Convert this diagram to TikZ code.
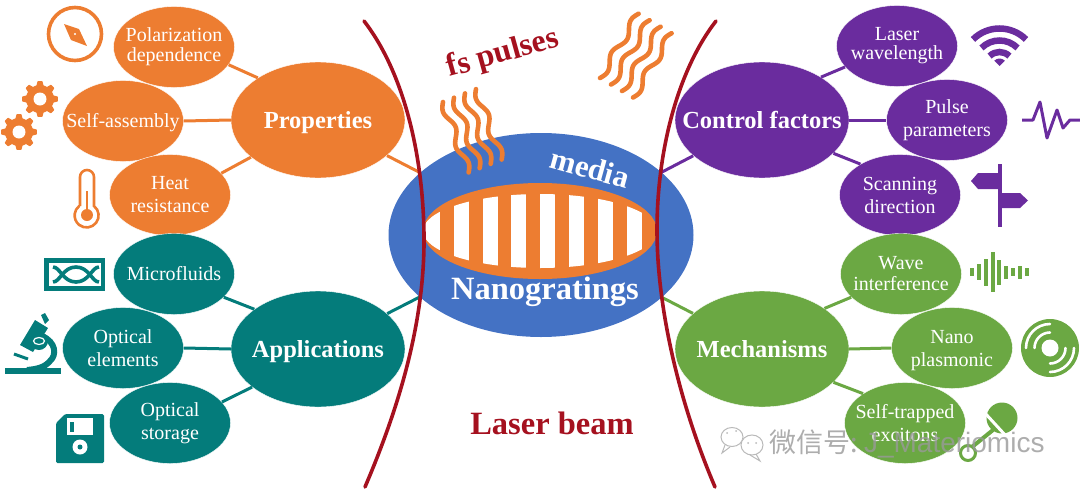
\documentclass[tikz,border=0pt]{standalone}
\usepackage{fontspec}
\setmainfont{Liberation Serif}
\setsansfont{Liberation Sans}
\newfontfamily\cjkfont{Noto Sans CJK SC}
\usetikzlibrary{shapes.geometric}

\definecolor{orangeFill}{HTML}{ED7D31}
\definecolor{tealFill}{HTML}{047C7B}
\definecolor{purpleFill}{HTML}{6A2C9E}
\definecolor{greenFill}{HTML}{6BA843}
\definecolor{blueFill}{HTML}{4472C4}
\definecolor{beamRed}{HTML}{A5111F}

\tikzstyle{subState}=[shape=ellipse,draw=white,text=white,inner sep=-30pt,align=center,minimum width=121pt,minimum height=81pt,font=\fontsize{20}{23}\selectfont]
\tikzstyle{mainState}=[shape=ellipse,draw=white,text=white,inner sep=-30pt,align=center,minimum width=174pt,minimum height=116pt,text height=16pt,text depth=0pt,font=\fontsize{24.5}{28}\selectfont\bfseries]
\tikzstyle{bigLabel}=[font=\fontsize{32.5}{36}\selectfont\bfseries]
\tikzstyle{link}=[line width=3pt]
\tikzstyle{pulseWave}=[draw=orangeFill,line width=4.6pt,line cap=round]

\tikzset{
    gearIcon/.pic={
        \fill[orangeFill] (0,0) circle (14pt);
        \foreach \a in {0,45,...,315}
            \filldraw[orangeFill,line width=1.5pt,line join=round,rotate=\a] (-3.2,-12) -- (-1.8,-17.2) -- (1.8,-17.2) -- (3.2,-12) -- cycle;
        \fill[white] (0,0) circle (6.5pt);
    },
    waveIcon/.pic={
        \draw[pulseWave] plot[domain=0:1,samples=40,smooth] ({\x*75},{3.4*sin(\x*720)});
    }
}

\begin{document}
\begin{tikzpicture}[x=1pt,y=-1pt]
        \useasboundingbox (0,0) rectangle (1080,493);

        % middle
        \node[shape=ellipse,fill=blueFill,minimum width=305pt,minimum height=204pt] (medium) at (541,235) {};
        \node[shape=ellipse,fill=orangeFill,minimum width=234pt,minimum height=96pt] (grating) at (540,231) {};
        \begin{scope}
            \clip (540,231) ellipse [x radius=117pt,y radius=37pt];
            \foreach \n in {0,...,7}
                \fill[white] (425+28.8*\n,190) rectangle ++(15,85);
        \end{scope}
        \node[rotate=-15.5,text=white,font=\fontsize{31}{36}\selectfont\bfseries] (media) at (590,168) {media};
        \node[bigLabel,text=white] (nanogratings) at (545,292) {Nanogratings};
        \node[rotate=15.5,text=beamRed,font=\fontsize{32}{36}\selectfont\bfseries] (fs) at (503,54) {fs pulses};
        \node[bigLabel,text=beamRed] (beam) at (552,423) {Laser beam};

        % orange, top left
        \node[mainState,fill=orangeFill] (prop) at (318,120) {Properties};
        \node[subState,fill=orangeFill] (polar) at (174,47)  {Polarization\\[-3pt]dependence};
        \node[subState,fill=orangeFill,text height=12pt,text depth=0pt] (self)  at (123,121) {Self-assembly};
        \node[subState,fill=orangeFill] (heat)  at (170,195) {Heat\\resistance};

        \draw [link,orangeFill] (prop.145) to (polar.-18);
        \draw [link,orangeFill] (prop.180) to (self.0);
        \draw [link,orangeFill] (prop.209) to (heat.23);
        \draw [link,orangeFill] (prop) to (medium);

        % teal, bottom left
        \node[mainState,fill=tealFill] (appl) at (318,349) {Applications};
        \node[subState,fill=tealFill] (micro)   at (174,274) {Microfluids};
        \node[subState,fill=tealFill] (optics)  at (123,348) {Optical\\elements};
        \node[subState,fill=tealFill] (storage) at (170,423) {Optical\\storage};

        \draw [link,tealFill] (appl.148) to (micro.-25);
        \draw [link,tealFill] (appl.180) to (optics.0);
        \draw [link,tealFill] (appl.210) to (storage.22);
        \draw [link,tealFill] (appl) to (medium);

        % purple, top right
        \node[mainState,fill=purpleFill] (ctrl) at (762,120) {Control factors};
        \node[subState,fill=purpleFill] (wavelen) at (897,46)  {Laser\\[-4pt]wavelength};
        \node[subState,fill=purpleFill] (pulse)   at (947,120) {Pulse\\parameters};
        \node[subState,fill=purpleFill] (scan)    at (900,195) {Scanning\\direction};

        \draw [link,purpleFill] (ctrl.36) to (wavelen.202);
        \draw [link,purpleFill] (ctrl.0) to (pulse.180);
        \draw [link,purpleFill] (ctrl.-25) to (scan.142);
        \draw [link,purpleFill] (ctrl) to (medium);

        % green, bottom right
        \node[mainState,fill=greenFill] (mech) at (762,349) {Mechanisms};
        \node[subState,fill=greenFill] (wave)   at (901,274) {Wave\\[-2pt]interference};
        \node[subState,fill=greenFill,text depth=0pt] (nano)   at (952,348) {Nano\\plasmonic};
        \node[subState,fill=greenFill] (exciton) at (905,423) {Self-trapped\\excitons};

        \draw [link,greenFill] (mech.33) to (wave.205);
        \draw [link,greenFill] (mech.0) to (nano.180);
        \draw [link,greenFill] (mech.-25) to (exciton.145);
        \draw [link,greenFill] (mech) to (medium);

        % laser beam outline
        \draw[beamRed,line width=3.6pt,line cap=round] (364,21) .. controls (402,70) and (423,150) .. (424,235) .. controls (425,320) and (400,405) .. (365,487);
        \draw[beamRed,line width=3.6pt,line cap=round] (716,21) .. controls (678,70) and (657,150) .. (657,230) .. controls (657,310) and (680,405) .. (715,487);

        % pulses
        \foreach \n in {0,...,3}
            \pic[rotate=-70] at (443+11*\n,102-4.3*\n) {waveIcon};
        \foreach \n in {0,...,3}
            \pic[rotate=59] at (600+11*\n,78+6.5*\n) {waveIcon};

        % compass
        \draw[orangeFill,line width=3.6pt] (75,34) circle (26.5pt);
        \fill[orangeFill] (64,24) -- (79,29) -- (87,46) -- (71,40) -- cycle;
        \fill[white] (75,34) circle (1.2pt);

        % gears
        \pic at (40,99) {gearIcon};
        \pic at (19,132) {gearIcon};

        % thermometer
        \draw[orangeFill,line width=2.6pt] (80,206) -- (80,177) arc[start angle=180,end angle=0,radius=7pt] -- (94,206) arc[start angle=52,end angle=-232,radius=12pt];
        \draw[orangeFill,line width=2pt] (87,191) -- (87,215);
        \fill[orangeFill] (87,215) circle (6pt);

        % chip
        \draw[tealFill,line width=4.5pt] (46.5,260.5) rectangle (103,288.5);
        \draw[tealFill,line width=3.6pt] (53,267) .. controls (60,267) and (63,282) .. (76,282) .. controls (89,282) and (92,267) .. (99,267);
        \draw[tealFill,line width=3.6pt] (53,282) .. controls (60,282) and (63,267) .. (76,267) .. controls (89,267) and (92,282) .. (99,282);

        % microscope
        \fill[tealFill] (5,368) rectangle (61,374);
        \fill[tealFill] (35,320) -- (48,328) -- (33,352) -- (20,345) -- cycle;
        \fill[tealFill] (41,315) -- (45,313) -- (49,320) -- (45,324) -- cycle;
        \draw[tealFill,line width=6pt] (42,336) .. controls (56,342) and (57,355) .. (50,361) .. controls (45,367) and (38,369) .. (27,370);
        \fill[tealFill] (39,341) circle (9pt);
        \draw[white,line width=1.2pt] (39,341) ellipse [x radius=5.5pt,y radius=3.5pt];
        \draw[tealFill,line width=3pt] (14,354) -- (28,359);

        % floppy
        \fill[tealFill,rounded corners=1.5pt] (65,414) -- (104,414) -- (104,463) -- (56,463) -- (56,423) -- cycle;
        \fill[white] (67,418) rectangle (93,435);
        \fill[tealFill] (70,422) rectangle (74,432);
        \fill[white] (80,447) circle (7.5pt);
        \fill[tealFill] (80,447) circle (2.5pt);

        % wifi
        \foreach \r in {37.5,25.5,14}
            \draw[purpleFill,line width=6.5pt] (999.5,66) ++(45:\r pt) arc[start angle=45,end angle=135,radius=\r pt];
        \fill[purpleFill] (999.5,66) -- ++(45:7.5pt) arc[start angle=45,end angle=135,radius=7.5pt] -- cycle;

        % pulse trace
        \draw[purpleFill,line width=3pt,line join=round] (1022,120) -- (1033,120) -- (1040,102) -- (1047,138) -- (1057,110) -- (1063,128) -- (1070,120) -- (1080,120);

        % signpost
        \fill[purpleFill] (997.5,164) rectangle (1002,227);
        \fill[purpleFill] (999,173) -- (978,173) -- (971,181) -- (978,189) -- (999,189) -- cycle;
        \fill[purpleFill] (1001,193) -- (1020,193) -- (1028,200.5) -- (1020,208) -- (1001,208) -- cycle;

        % sound wave
        \foreach \x/\h in {972/8,979/16,986/27,993/40,999/25,1006/13,1013/8,1020/13,1027/8}
            \fill[greenFill] (\x-2,272-\h/2) rectangle (\x+2,272+\h/2);

        % disc
        \fill[greenFill] (1050,348) circle (29pt);
        \fill[white] (1050,348) circle (8.5pt);
        \foreach \r in {15.5,24} {
            \draw[white,line width=2.6pt,line cap=round] (1050,348) ++(90:\r pt) arc[start angle=90,end angle=180,radius=\r pt];
            \draw[white,line width=2.6pt,line cap=round] (1050,348) ++(-90:\r pt) arc[start angle=-90,end angle=0,radius=\r pt];
        }

        % rattle
        \draw[greenFill,line width=4pt] (993,430) -- (972,447);
        \fill[greenFill] (1002,418) circle (15.5pt);
        \draw[white,line width=3pt] (984,412) -- (1006,436);
        \draw[greenFill,line width=3pt] (968,453) circle (7.5pt);

        % watermark
        \draw[gray!55,line width=1pt] (732,437) ellipse [x radius=11pt,y radius=9.5pt];
        \draw[gray!55,line width=1pt] (725,445) -- (722,453) -- (730,447);
        \fill[white] (752,445) circle (11pt);
        \draw[gray!55,line width=1pt] (752,445) ellipse [x radius=11pt,y radius=10pt];
        \draw[gray!55,line width=1pt] (756,454) -- (760,461) -- (750,455);
        \fill[gray!55] (748,443) circle (1pt) (756,443) circle (1pt) (727,433) circle (1pt) (736,431) circle (1pt);
        \node[anchor=west,inner sep=0pt,text=gray!80,opacity=.8,font=\fontsize{28}{30}\selectfont] (mark) at (769,444) {{\cjkfont\fontsize{27}{30}\selectfont 微信号:}\hspace{-3pt} {\sffamily J\_Materiomics}};
\end{tikzpicture}
\end{document}
